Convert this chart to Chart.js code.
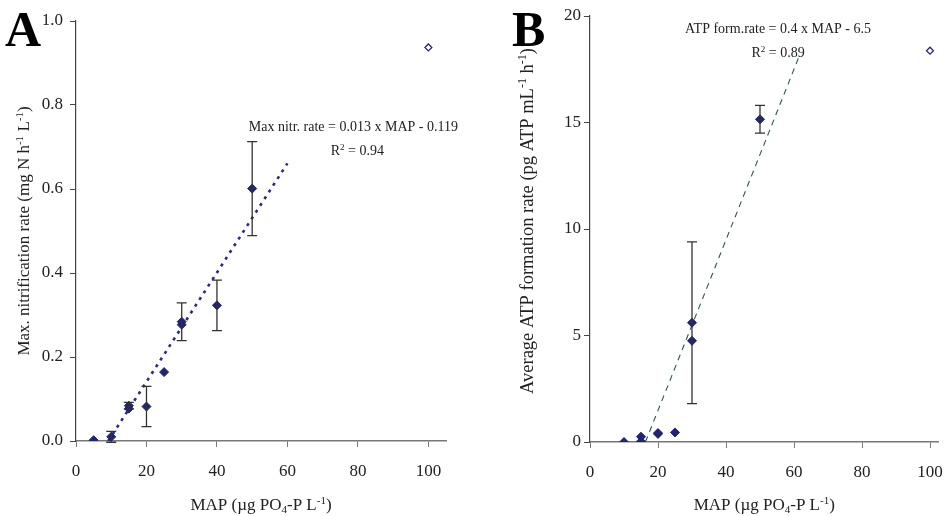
<!DOCTYPE html>
<html>
<head>
<meta charset="utf-8">
<script src="https://cdn.jsdelivr.net/npm/chart.js@4"></script>
<style>
  body { margin: 0; background: #fff; }
  #wrap { position: relative; width: 944px; height: 516px; }
  canvas { position: absolute; top: 0; }
</style>
</head>
<body>
<div id="wrap">
  <canvas id="chartA" width="470" height="516" style="left:0"></canvas>
  <canvas id="chartB" width="474" height="516" style="left:470px"></canvas>
</div>
<script>
// Panel A - max nitrification rate
const mapA = [5, 10, 15, 15, 20, 25, 30, 30, 40, 50];
const rateA = [0.002, 0.01, 0.084, 0.077, 0.082, 0.164, 0.284, 0.277, 0.323, 0.601];
const errA = [0, 0.013, 0.008, 0, 0.048, 0, 0.045, 0, 0.06, 0.112];
const outlierA = [{ x: 100, y: 0.937 }];
const trendA = [{ x: 9.15, y: 0 }, { x: 60, y: 0.661 }];

// Panel B - ATP formation rate
const mapB = [10, 15, 15, 20, 20, 25, 30, 30, 50];
const atpB = [0, 0.25, 0.03, 0.42, 0.38, 0.45, 5.6, 4.75, 15.15];
const errB = [0, 0, 0, 0, 0, 0, 3.8, 0, 0.65];
const outlierB = [{ x: 100, y: 18.37 }];
const trendB = [{ x: 16.3, y: 0 }, { x: 61.5, y: 18.1 }];

const xTicks = [0, 20, 40, 60, 80, 100];
const yTicksA = [0, 0.2, 0.4, 0.6, 0.8, 1.0];
const yTicksB = [0, 5, 10, 15, 20];

const FONT = '"Liberation Serif", "Times New Roman", serif';
const NAVY = '#23236e';

const xTitle = [['MAP (µg PO', ''], ['4', 'sub'], ['-P L', ''], ['-1', 'sup'], [')', '']];
const yTitleA = [['Max. nitrification rate (mg N h', ''], ['-1', 'sup'], [' L', ''], ['-1', 'sup'], [')', '']];
const yTitleB = [['Average ATP formation rate (pg ATP mL', ''], ['-1', 'sup'], [' h', ''], ['-1', 'sup'], [')', '']];

function richWidth(ctx, segs, size) {
  let w = 0;
  segs.forEach(s => {
    ctx.font = (s[1] ? size * 0.65 : size) + 'px ' + FONT;
    w += ctx.measureText(s[0]).width;
  });
  return w;
}

function drawRich(ctx, segs, cx, cy, size, rotate) {
  ctx.save();
  ctx.translate(cx, cy);
  if (rotate) ctx.rotate(-Math.PI / 2);
  ctx.fillStyle = '#222';
  ctx.textBaseline = 'alphabetic';
  ctx.textAlign = 'left';
  let x = -richWidth(ctx, segs, size) / 2;
  segs.forEach(s => {
    const small = s[1] ? size * 0.65 : size;
    ctx.font = small + 'px ' + FONT;
    let dy = 0;
    if (s[1] === 'sup') dy = -size * 0.38;
    if (s[1] === 'sub') dy = size * 0.2;
    ctx.fillText(s[0], x, dy);
    x += ctx.measureText(s[0]).width;
  });
  ctx.restore();
}

function makePlugin(opts) {
  return {
    id: 'extras' + opts.letter,
    afterDatasetsDraw(chart) {
      const ctx = chart.ctx;
      const xs = chart.scales.x, ys = chart.scales.y;
      const area = chart.chartArea;
      // error bars
      ctx.save();
      ctx.strokeStyle = '#333';
      ctx.lineWidth = 1.3;
      opts.xs.forEach((xv, i) => {
        const e = opts.err[i];
        if (!e) return;
        const px = xs.getPixelForValue(xv);
        const top = ys.getPixelForValue(opts.ys[i] + e);
        const bot = ys.getPixelForValue(opts.ys[i] - e);
        ctx.beginPath();
        ctx.moveTo(px, top); ctx.lineTo(px, bot);
        ctx.moveTo(px - 5, top); ctx.lineTo(px + 5, top);
        ctx.moveTo(px - 5, bot); ctx.lineTo(px + 5, bot);
        ctx.stroke();
      });
      ctx.restore();
      // equation text
      ctx.save();
      ctx.fillStyle = '#222';
      ctx.textAlign = 'center';
      ctx.textBaseline = 'middle';
      ctx.font = '14px ' + FONT;
      const ex = xs.getPixelForValue(opts.eqPos.x);
      const ey = ys.getPixelForValue(opts.eqPos.y);
      ctx.fillText(opts.eq, ex, ey);
      drawRich(ctx, [['R', ''], ['2', 'sup'], [' = ' + opts.r2, '']], ex + opts.r2dx, ey + 28, 14, false);
      ctx.restore();
      // panel letter
      ctx.save();
      ctx.fillStyle = '#000';
      ctx.font = 'bold 50px ' + FONT;
      ctx.textBaseline = 'alphabetic';
      ctx.textAlign = 'left';
      ctx.fillText(opts.letter, opts.letterX, 46);
      ctx.restore();
      // axis titles
      drawRich(ctx, xTitle, (area.left + area.right) / 2 - opts.xTitleShift, 510, 17, false);
      drawRich(ctx, opts.yTitle, opts.yTitleX, (area.top + area.bottom) / 2 + opts.yTitleShift, opts.yTitleSize, true);
    }
  };
}

function makeChart(id, cfg) {
  return new Chart(document.getElementById(id), {
    type: 'scatter',
    data: {
      datasets: [
        {
          data: cfg.xs.map((x, i) => ({ x: x, y: cfg.ys[i] })),
          pointStyle: 'rectRot',
          pointRadius: 4.5,
          backgroundColor: NAVY,
          borderColor: NAVY,
          borderWidth: 1,
          order: 1
        },
        {
          data: cfg.outlier,
          pointStyle: 'rectRot',
          pointRadius: 3.5,
          backgroundColor: '#fff',
          borderColor: NAVY,
          borderWidth: 1.2,
          order: 1
        },
        {
          type: 'line',
          data: cfg.trend,
          borderColor: cfg.trendColor,
          borderWidth: cfg.trendWidth,
          borderDash: cfg.trendDash,
          pointRadius: 0,
          fill: false,
          order: 2
        }
      ]
    },
    options: {
      responsive: false,
      animation: false,
      layout: { padding: { left: 0, top: cfg.padTop, right: cfg.padRight, bottom: 0 } },
      plugins: { legend: { display: false }, tooltip: { enabled: false } },
      scales: {
        x: {
          type: 'linear',
          min: 0,
          max: cfg.xMax,
          afterBuildTicks: s => { s.ticks = xTicks.map(v => ({ value: v })); },
          afterFit: s => { s.height = cfg.xHeight; s.paddingRight = 0; s.paddingLeft = 0; },
          grid: { drawOnChartArea: false, drawTicks: true, tickLength: 6, color: '#777' },
          border: { display: true, color: '#777', width: 1.5 },
          ticks: { color: '#222', padding: 14, font: { family: FONT, size: 17 } }
        },
        y: {
          type: 'linear',
          min: 0,
          max: cfg.yMax,
          afterBuildTicks: s => { s.ticks = cfg.yTicks.map(v => ({ value: v })); },
          afterFit: s => { s.width = cfg.yWidth; },
          grid: { drawOnChartArea: false, drawTicks: true, tickLength: 6, color: '#444' },
          border: { display: true, color: '#444', width: 1.2 },
          ticks: {
            color: '#222', padding: cfg.yPad, font: { family: FONT, size: 17 },
            callback: cfg.yFmt
          }
        }
      }
    },
    plugins: [makePlugin(cfg)]
  });
}

makeChart('chartA', {
  letter: 'A', letterX: 5,
  xs: mapA, ys: rateA, err: errA, outlier: outlierA, trend: trendA,
  trendColor: '#2b2b7c', trendWidth: 2.6, trendDash: [3, 5],
  xMax: 105, yMax: 1.0, yTicks: yTicksA, yFmt: v => v.toFixed(1),
  padTop: 21, padRight: 24, xHeight: 75, yWidth: 76, yPad: 7,
  eq: 'Max nitr. rate = 0.013 x MAP - 0.119', eqPos: { x: 78.7, y: 0.748 }, r2: '0.94', r2dx: 4,
  yTitle: yTitleA, yTitleX: 29, yTitleShift: 0, yTitleSize: 17, xTitleShift: 0
});

makeChart('chartB', {
  letter: 'B', letterX: 42,
  xs: mapB, ys: atpB, err: errB, outlier: outlierB, trend: trendB,
  trendColor: '#2f5a3c', trendWidth: 1.1, trendDash: [6, 5],
  xMax: 102.5, yMax: 20, yTicks: yTicksB, yFmt: v => String(v),
  padTop: 16, padRight: 0, xHeight: 74, yWidth: 120, yPad: 3,
  eq: 'ATP form.rate = 0.4 x MAP - 6.5', eqPos: { x: 55.3, y: 19.39 }, r2: '0.89', r2dx: 0,
  yTitle: yTitleB, yTitleX: 63, yTitleShift: -8, yTitleSize: 18.5, xTitleShift: 0
});
</script>
</body>
</html>
